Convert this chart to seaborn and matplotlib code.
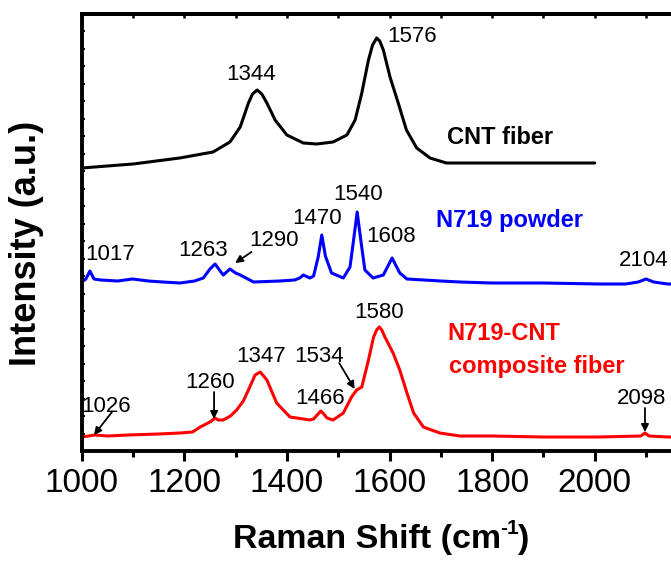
import numpy as np
import matplotlib
matplotlib.use("Agg")
import matplotlib.pyplot as plt
from matplotlib.ticker import MultipleLocator
import seaborn as sns

# ---------------- data ----------------
cnt_w = [1000, 1100, 1191, 1256, 1289, 1309, 1325, 1333, 1342, 1351, 1361, 1377, 1400,
         1432, 1458, 1490, 1517, 1533, 1546, 1559, 1567, 1575, 1581, 1588, 1601, 1617,
         1633, 1653, 1679, 1711, 1737, 1800, 1900, 2000]
cnt_i = [283, 287, 293, 299, 309, 324, 348, 357, 361, 357, 348, 331, 316,
         308, 307, 309, 316, 331, 358, 391, 406, 413, 410, 401, 374, 348,
         321, 303, 293, 288, 288, 288, 288, 288]

n719_w = [1000, 1008, 1016, 1024, 1037, 1070, 1099, 1130, 1158, 1192, 1220, 1237, 1250,
          1260, 1270, 1276, 1289, 1300, 1309, 1335, 1386, 1415, 1425, 1432, 1445, 1452,
          1461, 1468, 1475, 1487, 1510, 1523, 1530, 1537, 1544, 1552, 1568, 1588, 1598,
          1605, 1612, 1620, 1634, 1700, 1737, 1800, 1900, 2008, 2060, 2085, 2100, 2115,
          2142, 2200]
n719_i = [169, 172, 180, 172, 171, 170, 172, 170, 169, 168, 170, 173, 182,
          187, 180, 176, 182, 178, 176, 169, 170, 171, 173, 176, 173, 175,
          194, 216, 195, 178, 173, 184, 211, 239, 211, 181, 173, 176, 186,
          193, 186, 178, 172, 170, 169, 168, 168, 167, 167, 169, 172, 169,
          167, 167]

comp_w = [1000, 1026, 1050, 1091, 1150, 1192, 1216, 1231, 1250, 1260, 1266, 1276, 1290,
          1302, 1315, 1325, 1338, 1348, 1361, 1380, 1406, 1445, 1452, 1459, 1466, 1472,
          1478, 1490, 1510, 1526, 1536, 1546, 1559, 1569, 1575, 1580, 1585, 1591, 1607,
          1620, 1634, 1647, 1666, 1698, 1737, 1800, 1900, 2008, 2090, 2098, 2106, 2142,
          2200]
comp_i = [14, 16, 15, 16, 17, 18, 19, 24, 29, 33, 31, 31, 35,
          41, 50, 61, 76, 79, 71, 48, 34, 31, 32, 36, 40, 37,
          33, 31, 38, 54, 61, 64, 91, 114, 121, 124, 121, 114, 98,
          81, 58, 38, 24, 18, 15, 15, 14, 14, 15, 18, 15, 14,
          14]

series_names = ["CNT fiber", "N719 powder", "N719-CNT\ncomposite fiber"]
x_ticks = [1000, 1200, 1400, 1600, 1800, 2000]

# peak labels: (text, x, y) and arrows: (text, text_x, text_y, tail_x, tail_y, tip_x, tip_y)
cnt_labels = [("1344", 1331, 376), ("1576", 1644, 414)]
n719_labels = [("1017", 1056, 196), ("1263", 1237, 201), ("1470", 1459, 233),
               ("1540", 1539, 257), ("1608", 1604, 215), ("2104", 2095, 191)]
n719_arrows = [("1290", 1375, 211, 1331, 199, 1299, 188)]
comp_labels = [("1347", 1349, 95), ("1466", 1464, 52), ("1580", 1579, 138)]
comp_arrows = [("1026", 1047, 45, 1059, 39, 1024, 16),
               ("1260", 1251, 68, 1258, 59, 1258, 32),
               ("1534", 1463, 95, 1502, 88, 1532, 62),
               ("2098", 2092, 53, 2098, 43, 2098, 19)]

# ---------------- style ----------------
sns.set_style("ticks")
plt.rcParams["font.family"] = ["Liberation Sans", "DejaVu Sans"]
for k in ["text.color", "axes.labelcolor", "xtick.color", "ytick.color", "axes.edgecolor"]:
    plt.rcParams[k] = "black"

W, H = 671, 561
fig = plt.figure(figsize=(W / 100, H / 100), dpi=100)
ax_left, ax_bottom = 81.7 / W, (H - 451) / H
ax_w, ax_h = 1200 * 0.513 / W, 437 / H
ax = fig.add_axes([ax_left, ax_bottom, ax_w, ax_h])

lw = 2.2
sns.lineplot(x=cnt_w, y=cnt_i, color="black", lw=lw, ax=ax)
sns.lineplot(x=n719_w, y=n719_i, color="#0000ff", lw=lw, ax=ax)
sns.lineplot(x=comp_w, y=comp_i, color="#ff0000", lw=lw, ax=ax)

ax.set_xlim(1000, 2200)
ax.set_ylim(0, 437)
ax.set_xticks(x_ticks)
ax.xaxis.set_minor_locator(MultipleLocator(100))
ax.yaxis.set_major_locator(MultipleLocator(437 / 25))
ax.set_yticklabels([])
ax.set_xlabel("")
ax.set_ylabel("")

for s in ["left", "bottom", "top", "right"]:
    ax.spines[s].set_linewidth(2.8)
    ax.spines[s].set_color("black")

ax.tick_params(axis="x", which="major", direction="out", length=7, width=2.2,
               labelsize=24, pad=5, top=False, colors="black")
ax.tick_params(axis="x", which="minor", direction="out", length=4.5, width=2.2, top=False,
               colors="black")
ax.tick_params(axis="y", which="major", direction="in", length=2.5, width=1.5,
               left=True, right=False, colors="black")

# inward ticks along the top spine
ax_top = ax.secondary_xaxis("top")
ax_top.set_xticks(x_ticks)
ax_top.xaxis.set_minor_locator(MultipleLocator(100))
ax_top.tick_params(which="both", direction="in", length=3, width=1.8, labeltop=False,
                   colors="black")
ax_top.set_xticklabels([])
ax_top.spines["top"].set_linewidth(2.8)

afs = 16
for t, x, y in cnt_labels + n719_labels + comp_labels:
    ax.text(x, y, t, fontsize=afs, ha="center", va="center", color="black")
for t, tx, ty, x0, y0, x1, y1 in n719_arrows + comp_arrows:
    ax.text(tx, ty, t, fontsize=afs, ha="center", va="center", color="black")
    ax.annotate("", xy=(x1, y1), xytext=(x0, y0),
                arrowprops=dict(arrowstyle="-|>", color="black", lw=1.3,
                                mutation_scale=11, shrinkA=0, shrinkB=0))

sfs = 17
ax.text(1712, 314, series_names[0], fontsize=sfs, fontweight="bold",
        color="black", ha="left", va="center")
ax.text(1691, 231, series_names[1], fontsize=sfs, fontweight="bold",
        color="#0000ff", ha="left", va="center")
l1, l2 = series_names[2].split("\n")
ax.text(1712, 118, l1, fontsize=sfs, fontweight="bold", color="#ff0000",
        ha="left", va="center")
ax.text(1716, 85, l2, fontsize=sfs, fontweight="bold", color="#ff0000",
        ha="left", va="center")

# x label with a hyphen superscript, built from three pieces
renderer = fig.canvas.get_renderer()
base_y = 548
lab_fs = 24.5
parts = [("Raman Shift (cm", lab_fs, 0), ("-1", 15, 14), (")", lab_fs, 0)]
objs = []
widths = []
for txt, fs, dy in parts:
    o = fig.text(0, 0, txt, fontsize=fs, fontweight="bold", ha="left", va="baseline")
    widths.append(o.get_window_extent(renderer).width)
    objs.append(o)
total = sum(widths) - 2
x_cur = 381.5 - total / 2
for (txt, fs, dy), o, wdt in zip(parts, objs, widths):
    o.set_position((x_cur / W, 1 - (base_y - dy) / H))
    x_cur += wdt - 1

fig.text(27 / W, 1 - 243 / H, "Intensity (a.u.)", fontsize=26, fontweight="bold",
         rotation=90, ha="center", va="center")

fig.savefig("out.png", dpi=100)
